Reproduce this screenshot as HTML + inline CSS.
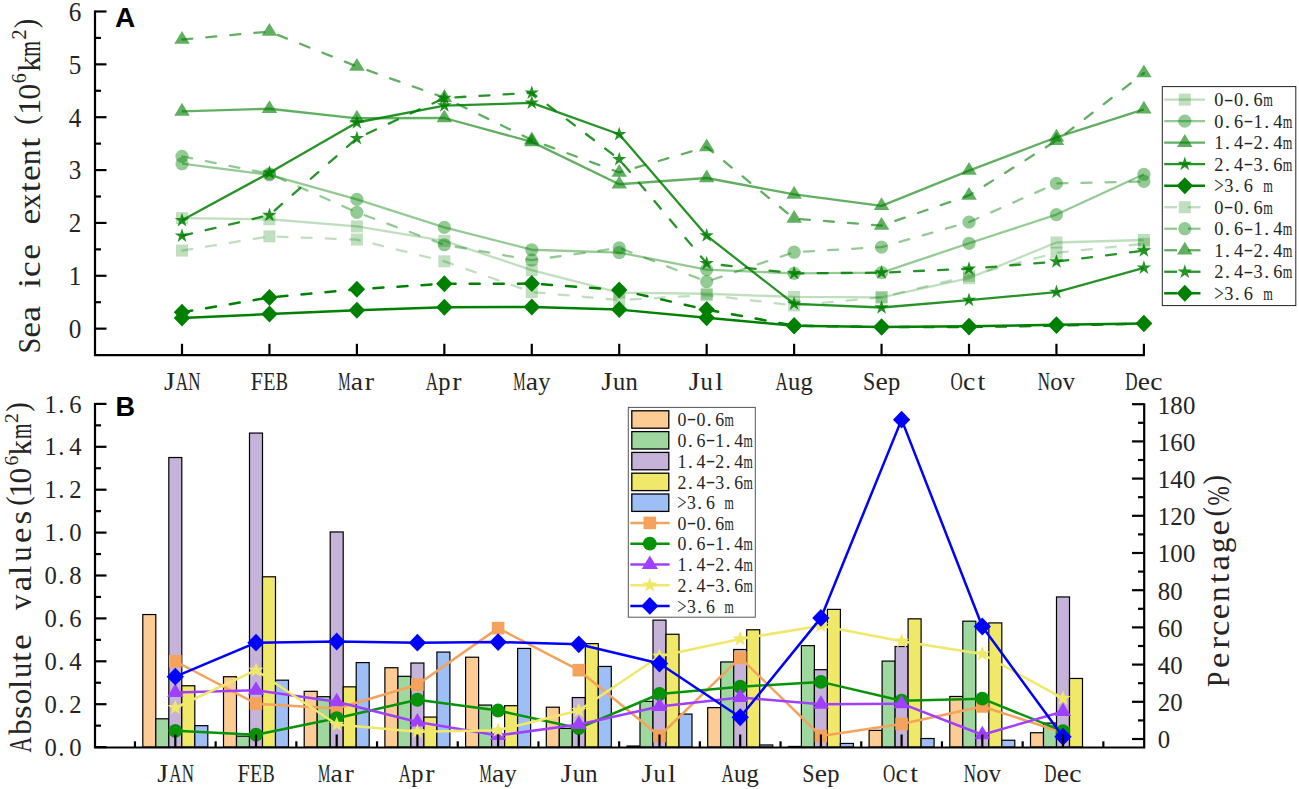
<!DOCTYPE html>
<html><head><meta charset="utf-8"><title>Sea ice extent</title>
<style>html,body{margin:0;padding:0;background:#fff;}body{width:1299px;height:789px;overflow:hidden;font-family:"Liberation Serif",serif;}svg{display:block;}</style>
</head><body>
<svg width="1299" height="789" viewBox="0 0 1299 789">
<rect width="1299" height="789" fill="#fff"/>
<polyline points="182.00,218.17 269.45,219.23 356.89,226.42 444.34,240.90 531.78,270.08 619.23,292.55 706.67,293.76 794.12,296.93 881.56,297.36 969.01,278.17 1056.45,242.49 1143.90,240.00" fill="none" stroke="#008000" stroke-width="2.3" stroke-opacity="0.25" stroke-linejoin="round"/>
<rect x="176.00" y="212.17" width="12.0" height="12.0" fill="#008000" fill-opacity="0.25"/>
<rect x="263.45" y="213.23" width="12.0" height="12.0" fill="#008000" fill-opacity="0.25"/>
<rect x="350.89" y="220.42" width="12.0" height="12.0" fill="#008000" fill-opacity="0.25"/>
<rect x="438.34" y="234.90" width="12.0" height="12.0" fill="#008000" fill-opacity="0.25"/>
<rect x="525.78" y="264.08" width="12.0" height="12.0" fill="#008000" fill-opacity="0.25"/>
<rect x="613.23" y="286.55" width="12.0" height="12.0" fill="#008000" fill-opacity="0.25"/>
<rect x="700.67" y="287.76" width="12.0" height="12.0" fill="#008000" fill-opacity="0.25"/>
<rect x="788.12" y="290.93" width="12.0" height="12.0" fill="#008000" fill-opacity="0.25"/>
<rect x="875.56" y="291.36" width="12.0" height="12.0" fill="#008000" fill-opacity="0.25"/>
<rect x="963.01" y="272.17" width="12.0" height="12.0" fill="#008000" fill-opacity="0.25"/>
<rect x="1050.45" y="236.49" width="12.0" height="12.0" fill="#008000" fill-opacity="0.25"/>
<rect x="1137.90" y="234.00" width="12.0" height="12.0" fill="#008000" fill-opacity="0.25"/>
<polyline points="182.00,163.73 269.45,174.83 356.89,199.41 444.34,227.42 531.78,249.73 619.23,252.53 706.67,269.55 794.12,273.41 881.56,272.67 969.01,243.28 1056.45,214.58 1143.90,174.30" fill="none" stroke="#008000" stroke-width="2.3" stroke-opacity="0.42" stroke-linejoin="round"/>
<circle cx="182.00" cy="163.73" r="6.6" fill="#008000" fill-opacity="0.42"/>
<circle cx="269.45" cy="174.83" r="6.6" fill="#008000" fill-opacity="0.42"/>
<circle cx="356.89" cy="199.41" r="6.6" fill="#008000" fill-opacity="0.42"/>
<circle cx="444.34" cy="227.42" r="6.6" fill="#008000" fill-opacity="0.42"/>
<circle cx="531.78" cy="249.73" r="6.6" fill="#008000" fill-opacity="0.42"/>
<circle cx="619.23" cy="252.53" r="6.6" fill="#008000" fill-opacity="0.42"/>
<circle cx="706.67" cy="269.55" r="6.6" fill="#008000" fill-opacity="0.42"/>
<circle cx="794.12" cy="273.41" r="6.6" fill="#008000" fill-opacity="0.42"/>
<circle cx="881.56" cy="272.67" r="6.6" fill="#008000" fill-opacity="0.42"/>
<circle cx="969.01" cy="243.28" r="6.6" fill="#008000" fill-opacity="0.42"/>
<circle cx="1056.45" cy="214.58" r="6.6" fill="#008000" fill-opacity="0.42"/>
<circle cx="1143.90" cy="174.30" r="6.6" fill="#008000" fill-opacity="0.42"/>
<polyline points="182.00,111.40 269.45,108.75 356.89,118.27 444.34,118.00 531.78,141.90 619.23,184.24 706.67,178.00 794.12,194.39 881.56,205.86 969.01,170.60 1056.45,137.30 1143.90,109.28" fill="none" stroke="#008000" stroke-width="2.3" stroke-opacity="0.62" stroke-linejoin="round"/>
<polygon points="182.00,102.86 189.75,115.66 174.25,115.66" fill="#008000" fill-opacity="0.62"/>
<polygon points="269.45,100.22 277.20,113.02 261.70,113.02" fill="#008000" fill-opacity="0.62"/>
<polygon points="356.89,109.73 364.64,122.53 349.14,122.53" fill="#008000" fill-opacity="0.62"/>
<polygon points="444.34,109.47 452.09,122.27 436.59,122.27" fill="#008000" fill-opacity="0.62"/>
<polygon points="531.78,133.36 539.53,146.16 524.03,146.16" fill="#008000" fill-opacity="0.62"/>
<polygon points="619.23,175.70 626.98,188.50 611.48,188.50" fill="#008000" fill-opacity="0.62"/>
<polygon points="706.67,169.47 714.42,182.27 698.92,182.27" fill="#008000" fill-opacity="0.62"/>
<polygon points="794.12,185.85 801.87,198.65 786.37,198.65" fill="#008000" fill-opacity="0.62"/>
<polygon points="881.56,197.32 889.31,210.12 873.81,210.12" fill="#008000" fill-opacity="0.62"/>
<polygon points="969.01,162.07 976.76,174.87 961.26,174.87" fill="#008000" fill-opacity="0.62"/>
<polygon points="1056.45,128.76 1064.20,141.56 1048.70,141.56" fill="#008000" fill-opacity="0.62"/>
<polygon points="1143.90,100.75 1151.65,113.55 1136.15,113.55" fill="#008000" fill-opacity="0.62"/>
<polyline points="182.00,220.29 269.45,172.87 356.89,122.50 444.34,105.58 531.78,102.94 619.23,134.28 706.67,235.67 794.12,303.96 881.56,307.51 969.01,300.11 1056.45,292.18 1143.90,267.97" fill="none" stroke="#008000" stroke-width="2.3" stroke-opacity="0.85" stroke-linejoin="round"/>
<polygon points="182.00,212.69 183.71,217.94 189.23,217.94 184.76,221.18 186.47,226.44 182.00,223.19 177.53,226.44 179.24,221.18 174.77,217.94 180.29,217.94" fill="#008000" fill-opacity="0.85"/>
<polygon points="269.45,165.27 271.15,170.52 276.67,170.52 272.21,173.77 273.91,179.02 269.45,175.77 264.98,179.02 266.68,173.77 262.22,170.52 267.74,170.52" fill="#008000" fill-opacity="0.85"/>
<polygon points="356.89,114.90 358.60,120.15 364.12,120.15 359.65,123.39 361.36,128.64 356.89,125.40 352.42,128.64 354.13,123.39 349.66,120.15 355.18,120.15" fill="#008000" fill-opacity="0.85"/>
<polygon points="444.34,97.98 446.04,103.23 451.56,103.23 447.10,106.48 448.80,111.73 444.34,108.48 439.87,111.73 441.58,106.48 437.11,103.23 442.63,103.23" fill="#008000" fill-opacity="0.85"/>
<polygon points="531.78,95.34 533.49,100.59 539.01,100.59 534.54,103.83 536.25,109.09 531.78,105.84 527.31,109.09 529.02,103.83 524.55,100.59 530.08,100.59" fill="#008000" fill-opacity="0.85"/>
<polygon points="619.23,126.68 620.93,131.94 626.46,131.94 621.99,135.18 623.69,140.43 619.23,137.19 614.76,140.43 616.47,135.18 612.00,131.94 617.52,131.94" fill="#008000" fill-opacity="0.85"/>
<polygon points="706.67,228.07 708.38,233.32 713.90,233.32 709.43,236.57 711.14,241.82 706.67,238.57 702.21,241.82 703.91,236.57 699.44,233.32 704.97,233.32" fill="#008000" fill-opacity="0.85"/>
<polygon points="794.12,296.36 795.82,301.62 801.35,301.62 796.88,304.86 798.59,310.11 794.12,306.87 789.65,310.11 791.36,304.86 786.89,301.62 792.41,301.62" fill="#008000" fill-opacity="0.85"/>
<polygon points="881.56,299.91 883.27,305.16 888.79,305.16 884.32,308.40 886.03,313.65 881.56,310.41 877.10,313.65 878.80,308.40 874.34,305.16 879.86,305.16" fill="#008000" fill-opacity="0.85"/>
<polygon points="969.01,292.51 970.72,297.76 976.24,297.76 971.77,301.00 973.48,306.25 969.01,303.01 964.54,306.25 966.25,301.00 961.78,297.76 967.30,297.76" fill="#008000" fill-opacity="0.85"/>
<polygon points="1056.45,284.58 1058.16,289.83 1063.68,289.83 1059.22,293.07 1060.92,298.33 1056.45,295.08 1051.99,298.33 1053.69,293.07 1049.23,289.83 1054.75,289.83" fill="#008000" fill-opacity="0.85"/>
<polygon points="1143.90,260.37 1145.61,265.62 1151.13,265.62 1146.66,268.86 1148.37,274.12 1143.90,270.87 1139.43,274.12 1141.14,268.86 1136.67,265.62 1142.19,265.62" fill="#008000" fill-opacity="0.85"/>
<polyline points="182.00,318.08 269.45,314.11 356.89,310.25 444.34,307.19 531.78,307.08 619.23,309.62 706.67,317.81 794.12,325.64 881.56,326.96 969.01,326.17 1056.45,324.84 1143.90,323.52" fill="none" stroke="#008000" stroke-width="2.5" stroke-opacity="1.0" stroke-linejoin="round"/>
<polygon points="182.00,309.58 190.25,318.08 182.00,326.58 173.75,318.08" fill="#008000" fill-opacity="1.0"/>
<polygon points="269.45,305.61 277.70,314.11 269.45,322.61 261.20,314.11" fill="#008000" fill-opacity="1.0"/>
<polygon points="356.89,301.75 365.14,310.25 356.89,318.75 348.64,310.25" fill="#008000" fill-opacity="1.0"/>
<polygon points="444.34,298.69 452.59,307.19 444.34,315.69 436.09,307.19" fill="#008000" fill-opacity="1.0"/>
<polygon points="531.78,298.58 540.03,307.08 531.78,315.58 523.53,307.08" fill="#008000" fill-opacity="1.0"/>
<polygon points="619.23,301.12 627.48,309.62 619.23,318.12 610.98,309.62" fill="#008000" fill-opacity="1.0"/>
<polygon points="706.67,309.31 714.92,317.81 706.67,326.31 698.42,317.81" fill="#008000" fill-opacity="1.0"/>
<polygon points="794.12,317.14 802.37,325.64 794.12,334.14 785.87,325.64" fill="#008000" fill-opacity="1.0"/>
<polygon points="881.56,318.46 889.81,326.96 881.56,335.46 873.31,326.96" fill="#008000" fill-opacity="1.0"/>
<polygon points="969.01,317.67 977.26,326.17 969.01,334.67 960.76,326.17" fill="#008000" fill-opacity="1.0"/>
<polygon points="1056.45,316.34 1064.70,324.84 1056.45,333.34 1048.20,324.84" fill="#008000" fill-opacity="1.0"/>
<polygon points="1143.90,315.02 1152.15,323.52 1143.90,332.02 1135.65,323.52" fill="#008000" fill-opacity="1.0"/>
<polyline points="182.00,250.63 269.45,236.36 356.89,239.58 444.34,261.36 531.78,292.02 619.23,300.16 706.67,295.08 794.12,305.39 881.56,297.36 969.01,275.79 1056.45,252.74 1143.90,243.81" fill="none" stroke="#008000" stroke-width="2.3" stroke-opacity="0.25" stroke-linejoin="round" stroke-dasharray="10 14.1" stroke-dashoffset="-0.3" stroke-linecap="round"/>
<rect x="176.00" y="244.63" width="12.0" height="12.0" fill="#008000" fill-opacity="0.25"/>
<rect x="263.45" y="230.36" width="12.0" height="12.0" fill="#008000" fill-opacity="0.25"/>
<rect x="350.89" y="233.58" width="12.0" height="12.0" fill="#008000" fill-opacity="0.25"/>
<rect x="438.34" y="255.36" width="12.0" height="12.0" fill="#008000" fill-opacity="0.25"/>
<rect x="525.78" y="286.02" width="12.0" height="12.0" fill="#008000" fill-opacity="0.25"/>
<rect x="613.23" y="294.16" width="12.0" height="12.0" fill="#008000" fill-opacity="0.25"/>
<rect x="700.67" y="289.08" width="12.0" height="12.0" fill="#008000" fill-opacity="0.25"/>
<rect x="788.12" y="299.39" width="12.0" height="12.0" fill="#008000" fill-opacity="0.25"/>
<rect x="875.56" y="291.36" width="12.0" height="12.0" fill="#008000" fill-opacity="0.25"/>
<rect x="963.01" y="269.79" width="12.0" height="12.0" fill="#008000" fill-opacity="0.25"/>
<rect x="1050.45" y="246.74" width="12.0" height="12.0" fill="#008000" fill-opacity="0.25"/>
<rect x="1137.90" y="237.81" width="12.0" height="12.0" fill="#008000" fill-opacity="0.25"/>
<polyline points="182.00,156.33 269.45,173.77 356.89,212.36 444.34,244.76 531.78,260.14 619.23,247.93 706.67,281.60 794.12,252.21 881.56,247.09 969.01,222.14 1056.45,183.44 1143.90,181.43" fill="none" stroke="#008000" stroke-width="2.3" stroke-opacity="0.42" stroke-linejoin="round" stroke-dasharray="10 14.1" stroke-dashoffset="-0.3" stroke-linecap="round"/>
<circle cx="182.00" cy="156.33" r="6.6" fill="#008000" fill-opacity="0.42"/>
<circle cx="269.45" cy="173.77" r="6.6" fill="#008000" fill-opacity="0.42"/>
<circle cx="356.89" cy="212.36" r="6.6" fill="#008000" fill-opacity="0.42"/>
<circle cx="444.34" cy="244.76" r="6.6" fill="#008000" fill-opacity="0.42"/>
<circle cx="531.78" cy="260.14" r="6.6" fill="#008000" fill-opacity="0.42"/>
<circle cx="619.23" cy="247.93" r="6.6" fill="#008000" fill-opacity="0.42"/>
<circle cx="706.67" cy="281.60" r="6.6" fill="#008000" fill-opacity="0.42"/>
<circle cx="794.12" cy="252.21" r="6.6" fill="#008000" fill-opacity="0.42"/>
<circle cx="881.56" cy="247.09" r="6.6" fill="#008000" fill-opacity="0.42"/>
<circle cx="969.01" cy="222.14" r="6.6" fill="#008000" fill-opacity="0.42"/>
<circle cx="1056.45" cy="183.44" r="6.6" fill="#008000" fill-opacity="0.42"/>
<circle cx="1143.90" cy="181.43" r="6.6" fill="#008000" fill-opacity="0.42"/>
<polyline points="182.00,39.51 269.45,31.58 356.89,66.46 444.34,97.65 531.78,139.94 619.23,172.50 706.67,147.02 794.12,218.60 881.56,225.57 969.01,195.44 1056.45,140.68 1143.90,73.07" fill="none" stroke="#008000" stroke-width="2.3" stroke-opacity="0.62" stroke-linejoin="round" stroke-dasharray="10 14.1" stroke-dashoffset="-0.3" stroke-linecap="round"/>
<polygon points="182.00,30.97 189.75,43.77 174.25,43.77" fill="#008000" fill-opacity="0.62"/>
<polygon points="269.45,23.04 277.20,35.84 261.70,35.84" fill="#008000" fill-opacity="0.62"/>
<polygon points="356.89,57.93 364.64,70.73 349.14,70.73" fill="#008000" fill-opacity="0.62"/>
<polygon points="444.34,89.12 452.09,101.92 436.59,101.92" fill="#008000" fill-opacity="0.62"/>
<polygon points="531.78,131.41 539.53,144.21 524.03,144.21" fill="#008000" fill-opacity="0.62"/>
<polygon points="619.23,163.97 626.98,176.77 611.48,176.77" fill="#008000" fill-opacity="0.62"/>
<polygon points="706.67,138.49 714.42,151.29 698.92,151.29" fill="#008000" fill-opacity="0.62"/>
<polygon points="794.12,210.06 801.87,222.86 786.37,222.86" fill="#008000" fill-opacity="0.62"/>
<polygon points="881.56,217.04 889.31,229.84 873.81,229.84" fill="#008000" fill-opacity="0.62"/>
<polygon points="969.01,186.91 976.76,199.71 961.26,199.71" fill="#008000" fill-opacity="0.62"/>
<polygon points="1056.45,132.15 1064.20,144.95 1048.70,144.95" fill="#008000" fill-opacity="0.62"/>
<polygon points="1143.90,64.54 1151.65,77.34 1136.15,77.34" fill="#008000" fill-opacity="0.62"/>
<polyline points="182.00,235.88 269.45,215.00 356.89,138.35 444.34,98.02 531.78,92.74 619.23,159.23 706.67,263.26 794.12,273.41 881.56,272.67 969.01,268.76 1056.45,261.62 1143.90,250.68" fill="none" stroke="#008000" stroke-width="2.3" stroke-opacity="0.85" stroke-linejoin="round" stroke-dasharray="10 14.1" stroke-dashoffset="-0.3" stroke-linecap="round"/>
<polygon points="182.00,228.28 183.71,233.53 189.23,233.53 184.76,236.78 186.47,242.03 182.00,238.78 177.53,242.03 179.24,236.78 174.77,233.53 180.29,233.53" fill="#008000" fill-opacity="0.85"/>
<polygon points="269.45,207.40 271.15,212.65 276.67,212.65 272.21,215.90 273.91,221.15 269.45,217.90 264.98,221.15 266.68,215.90 262.22,212.65 267.74,212.65" fill="#008000" fill-opacity="0.85"/>
<polygon points="356.89,130.75 358.60,136.01 364.12,136.01 359.65,139.25 361.36,144.50 356.89,141.26 352.42,144.50 354.13,139.25 349.66,136.01 355.18,136.01" fill="#008000" fill-opacity="0.85"/>
<polygon points="444.34,90.42 446.04,95.67 451.56,95.67 447.10,98.92 448.80,104.17 444.34,100.93 439.87,104.17 441.58,98.92 437.11,95.67 442.63,95.67" fill="#008000" fill-opacity="0.85"/>
<polygon points="531.78,85.14 533.49,90.39 539.01,90.39 534.54,93.63 536.25,98.88 531.78,95.64 527.31,98.88 529.02,93.63 524.55,90.39 530.08,90.39" fill="#008000" fill-opacity="0.85"/>
<polygon points="619.23,151.63 620.93,156.88 626.46,156.89 621.99,160.13 623.69,165.38 619.23,162.14 614.76,165.38 616.47,160.13 612.00,156.89 617.52,156.88" fill="#008000" fill-opacity="0.85"/>
<polygon points="706.67,255.66 708.38,260.91 713.90,260.91 709.43,264.16 711.14,269.41 706.67,266.17 702.21,269.41 703.91,264.16 699.44,260.91 704.97,260.91" fill="#008000" fill-opacity="0.85"/>
<polygon points="794.12,265.81 795.82,271.06 801.35,271.06 796.88,274.31 798.59,279.56 794.12,276.31 789.65,279.56 791.36,274.31 786.89,271.06 792.41,271.06" fill="#008000" fill-opacity="0.85"/>
<polygon points="881.56,265.07 883.27,270.32 888.79,270.32 884.32,273.57 886.03,278.82 881.56,275.57 877.10,278.82 878.80,273.57 874.34,270.32 879.86,270.32" fill="#008000" fill-opacity="0.85"/>
<polygon points="969.01,261.16 970.72,266.41 976.24,266.41 971.77,269.66 973.48,274.91 969.01,271.66 964.54,274.91 966.25,269.66 961.78,266.41 967.30,266.41" fill="#008000" fill-opacity="0.85"/>
<polygon points="1056.45,254.02 1058.16,259.27 1063.68,259.27 1059.22,262.52 1060.92,267.77 1056.45,264.53 1051.99,267.77 1053.69,262.52 1049.23,259.27 1054.75,259.27" fill="#008000" fill-opacity="0.85"/>
<polygon points="1143.90,243.08 1145.61,248.33 1151.13,248.33 1146.66,251.58 1148.37,256.83 1143.90,253.58 1139.43,256.83 1141.14,251.58 1136.67,248.33 1142.19,248.33" fill="#008000" fill-opacity="0.85"/>
<polyline points="182.00,312.26 269.45,297.46 356.89,289.32 444.34,283.72 531.78,283.61 619.23,289.96 706.67,309.62 794.12,325.64 881.56,326.96 969.01,327.06 1056.45,325.48 1143.90,323.52" fill="none" stroke="#008000" stroke-width="2.5" stroke-opacity="1.0" stroke-linejoin="round" stroke-dasharray="10 14.1" stroke-dashoffset="-0.3" stroke-linecap="round"/>
<polygon points="182.00,303.76 190.25,312.26 182.00,320.76 173.75,312.26" fill="#008000" fill-opacity="1.0"/>
<polygon points="269.45,288.96 277.70,297.46 269.45,305.96 261.20,297.46" fill="#008000" fill-opacity="1.0"/>
<polygon points="356.89,280.82 365.14,289.32 356.89,297.82 348.64,289.32" fill="#008000" fill-opacity="1.0"/>
<polygon points="444.34,275.22 452.59,283.72 444.34,292.22 436.09,283.72" fill="#008000" fill-opacity="1.0"/>
<polygon points="531.78,275.11 540.03,283.61 531.78,292.11 523.53,283.61" fill="#008000" fill-opacity="1.0"/>
<polygon points="619.23,281.46 627.48,289.96 619.23,298.46 610.98,289.96" fill="#008000" fill-opacity="1.0"/>
<polygon points="706.67,301.12 714.92,309.62 706.67,318.12 698.42,309.62" fill="#008000" fill-opacity="1.0"/>
<polygon points="794.12,317.14 802.37,325.64 794.12,334.14 785.87,325.64" fill="#008000" fill-opacity="1.0"/>
<polygon points="881.56,318.46 889.81,326.96 881.56,335.46 873.31,326.96" fill="#008000" fill-opacity="1.0"/>
<polygon points="969.01,318.56 977.26,327.06 969.01,335.56 960.76,327.06" fill="#008000" fill-opacity="1.0"/>
<polygon points="1056.45,316.98 1064.70,325.48 1056.45,333.98 1048.20,325.48" fill="#008000" fill-opacity="1.0"/>
<polygon points="1143.90,315.02 1152.15,323.52 1143.90,332.02 1135.65,323.52" fill="#008000" fill-opacity="1.0"/>
<path d="M95.0 10.49 V355.1 H1144.9" fill="none" stroke="#000" stroke-width="2.2"/>
<line x1="95.0" x2="106.5" y1="328.65" y2="328.65" stroke="#000" stroke-width="2.2"/>
<line x1="95.0" x2="101" y1="302.22" y2="302.22" stroke="#000" stroke-width="2.2"/>
<g font-family="Liberation Serif, serif" font-size="26.5" text-anchor="middle" fill="#242424">
<text transform="translate(75.00,337.95) scale(0.950,1)">0</text>
</g>
<line x1="95.0" x2="106.5" y1="275.79" y2="275.79" stroke="#000" stroke-width="2.2"/>
<line x1="95.0" x2="101" y1="249.36" y2="249.36" stroke="#000" stroke-width="2.2"/>
<g font-family="Liberation Serif, serif" font-size="26.5" text-anchor="middle" fill="#242424">
<text transform="translate(75.00,285.09) scale(0.950,1)">1</text>
</g>
<line x1="95.0" x2="106.5" y1="222.93" y2="222.93" stroke="#000" stroke-width="2.2"/>
<line x1="95.0" x2="101" y1="196.50" y2="196.50" stroke="#000" stroke-width="2.2"/>
<g font-family="Liberation Serif, serif" font-size="26.5" text-anchor="middle" fill="#242424">
<text transform="translate(75.00,232.23) scale(0.950,1)">2</text>
</g>
<line x1="95.0" x2="106.5" y1="170.07" y2="170.07" stroke="#000" stroke-width="2.2"/>
<line x1="95.0" x2="101" y1="143.64" y2="143.64" stroke="#000" stroke-width="2.2"/>
<g font-family="Liberation Serif, serif" font-size="26.5" text-anchor="middle" fill="#242424">
<text transform="translate(75.00,179.37) scale(0.950,1)">3</text>
</g>
<line x1="95.0" x2="106.5" y1="117.21" y2="117.21" stroke="#000" stroke-width="2.2"/>
<line x1="95.0" x2="101" y1="90.78" y2="90.78" stroke="#000" stroke-width="2.2"/>
<g font-family="Liberation Serif, serif" font-size="26.5" text-anchor="middle" fill="#242424">
<text transform="translate(75.00,126.51) scale(0.950,1)">4</text>
</g>
<line x1="95.0" x2="106.5" y1="64.35" y2="64.35" stroke="#000" stroke-width="2.2"/>
<line x1="95.0" x2="101" y1="37.92" y2="37.92" stroke="#000" stroke-width="2.2"/>
<g font-family="Liberation Serif, serif" font-size="26.5" text-anchor="middle" fill="#242424">
<text transform="translate(75.00,73.65) scale(0.950,1)">5</text>
</g>
<line x1="95.0" x2="106.5" y1="11.49" y2="11.49" stroke="#000" stroke-width="2.2"/>
<g font-family="Liberation Serif, serif" font-size="26.5" text-anchor="middle" fill="#242424">
<text transform="translate(75.00,20.79) scale(0.950,1)">6</text>
</g>
<line x1="182.00" x2="182.00" y1="343.8" y2="355.1" stroke="#000" stroke-width="2.2"/>
<g font-family="Liberation Serif, serif" font-size="25" text-anchor="middle" fill="#242424">
<text transform="translate(169.50,389.60) scale(1.120,1)">J</text>
<text transform="translate(182.00,389.60) scale(0.679,1)">A</text>
<text transform="translate(194.50,389.60) scale(0.679,1)">N</text>
</g>
<line x1="269.45" x2="269.45" y1="343.8" y2="355.1" stroke="#000" stroke-width="2.2"/>
<g font-family="Liberation Serif, serif" font-size="25" text-anchor="middle" fill="#242424">
<text transform="translate(256.95,389.60) scale(0.881,1)">F</text>
<text transform="translate(269.45,389.60) scale(0.802,1)">E</text>
<text transform="translate(281.95,389.60) scale(0.735,1)">B</text>
</g>
<line x1="356.89" x2="356.89" y1="343.8" y2="355.1" stroke="#000" stroke-width="2.2"/>
<g font-family="Liberation Serif, serif" font-size="25" text-anchor="middle" fill="#242424">
<text transform="translate(344.39,389.60) scale(0.551,1)">M</text>
<text transform="translate(356.89,389.60) scale(1.104,1)">a</text>
<text transform="translate(369.39,389.60) scale(1.120,1)">r</text>
</g>
<line x1="444.34" x2="444.34" y1="343.8" y2="355.1" stroke="#000" stroke-width="2.2"/>
<g font-family="Liberation Serif, serif" font-size="25" text-anchor="middle" fill="#242424">
<text transform="translate(431.84,389.60) scale(0.679,1)">A</text>
<text transform="translate(444.34,389.60) scale(0.980,1)">p</text>
<text transform="translate(456.84,389.60) scale(1.120,1)">r</text>
</g>
<line x1="531.78" x2="531.78" y1="343.8" y2="355.1" stroke="#000" stroke-width="2.2"/>
<g font-family="Liberation Serif, serif" font-size="25" text-anchor="middle" fill="#242424">
<text transform="translate(519.28,389.60) scale(0.551,1)">M</text>
<text transform="translate(531.78,389.60) scale(1.104,1)">a</text>
<text transform="translate(544.28,389.60) scale(0.980,1)">y</text>
</g>
<line x1="619.23" x2="619.23" y1="343.8" y2="355.1" stroke="#000" stroke-width="2.2"/>
<g font-family="Liberation Serif, serif" font-size="25" text-anchor="middle" fill="#242424">
<text transform="translate(606.73,389.60) scale(1.120,1)">J</text>
<text transform="translate(619.23,389.60) scale(0.980,1)">u</text>
<text transform="translate(631.73,389.60) scale(0.980,1)">n</text>
</g>
<line x1="706.67" x2="706.67" y1="343.8" y2="355.1" stroke="#000" stroke-width="2.2"/>
<g font-family="Liberation Serif, serif" font-size="25" text-anchor="middle" fill="#242424">
<text transform="translate(694.17,389.60) scale(1.120,1)">J</text>
<text transform="translate(706.67,389.60) scale(0.980,1)">u</text>
<text transform="translate(719.17,389.60) scale(1.120,1)">l</text>
</g>
<line x1="794.12" x2="794.12" y1="343.8" y2="355.1" stroke="#000" stroke-width="2.2"/>
<g font-family="Liberation Serif, serif" font-size="25" text-anchor="middle" fill="#242424">
<text transform="translate(781.62,389.60) scale(0.679,1)">A</text>
<text transform="translate(794.12,389.60) scale(0.980,1)">u</text>
<text transform="translate(806.62,389.60) scale(0.980,1)">g</text>
</g>
<line x1="881.56" x2="881.56" y1="343.8" y2="355.1" stroke="#000" stroke-width="2.2"/>
<g font-family="Liberation Serif, serif" font-size="25" text-anchor="middle" fill="#242424">
<text transform="translate(869.06,389.60) scale(0.881,1)">S</text>
<text transform="translate(881.56,389.60) scale(1.104,1)">e</text>
<text transform="translate(894.06,389.60) scale(0.980,1)">p</text>
</g>
<line x1="969.01" x2="969.01" y1="343.8" y2="355.1" stroke="#000" stroke-width="2.2"/>
<g font-family="Liberation Serif, serif" font-size="25" text-anchor="middle" fill="#242424">
<text transform="translate(956.51,389.60) scale(0.679,1)">O</text>
<text transform="translate(969.01,389.60) scale(1.104,1)">c</text>
<text transform="translate(981.51,389.60) scale(1.120,1)">t</text>
</g>
<line x1="1056.45" x2="1056.45" y1="343.8" y2="355.1" stroke="#000" stroke-width="2.2"/>
<g font-family="Liberation Serif, serif" font-size="25" text-anchor="middle" fill="#242424">
<text transform="translate(1043.95,389.60) scale(0.679,1)">N</text>
<text transform="translate(1056.45,389.60) scale(0.980,1)">o</text>
<text transform="translate(1068.95,389.60) scale(0.980,1)">v</text>
</g>
<line x1="1143.90" x2="1143.90" y1="343.8" y2="355.1" stroke="#000" stroke-width="2.2"/>
<g font-family="Liberation Serif, serif" font-size="25" text-anchor="middle" fill="#242424">
<text transform="translate(1131.40,389.60) scale(0.679,1)">D</text>
<text transform="translate(1143.90,389.60) scale(1.104,1)">e</text>
<text transform="translate(1156.40,389.60) scale(1.104,1)">c</text>
</g>
<text font-family="Liberation Sans, sans-serif" font-weight="bold" font-size="28" x="115" y="27.2">A</text>
<rect x="1162.3" y="86.6" width="133.5" height="219" fill="#fff" stroke="#222" stroke-width="1"/>
<line x1="1164.2" x2="1205" y1="99.60" y2="99.60" stroke="#008000" stroke-width="2.3" stroke-opacity="0.25"/>
<rect x="1178.80" y="93.60" width="12.0" height="12.0" fill="#008000" fill-opacity="0.25"/>
<g font-family="Liberation Serif, serif" font-size="19.5" text-anchor="middle" fill="#242424">
<text transform="translate(1218.90,106.20) scale(0.940,1)">0</text>
<text transform="translate(1228.70,104.54) scale(1.500,1)">-</text>
<text transform="translate(1238.50,106.20) scale(0.940,1)">0</text>
<text transform="translate(1247.03,106.20) scale(1.000,1)">.</text>
<text transform="translate(1258.10,106.20) scale(0.940,1)">6</text>
<text transform="translate(1267.90,106.20) scale(0.630,1)">m</text>
</g>
<line x1="1164.2" x2="1205" y1="121.12" y2="121.12" stroke="#008000" stroke-width="2.3" stroke-opacity="0.42"/>
<circle cx="1184.80" cy="121.12" r="6.6" fill="#008000" fill-opacity="0.42"/>
<g font-family="Liberation Serif, serif" font-size="19.5" text-anchor="middle" fill="#242424">
<text transform="translate(1218.90,127.72) scale(0.940,1)">0</text>
<text transform="translate(1227.43,127.72) scale(1.000,1)">.</text>
<text transform="translate(1238.50,127.72) scale(0.940,1)">6</text>
<text transform="translate(1248.30,126.06) scale(1.500,1)">-</text>
<text transform="translate(1258.10,127.72) scale(0.940,1)">1</text>
<text transform="translate(1266.63,127.72) scale(1.000,1)">.</text>
<text transform="translate(1277.70,127.72) scale(0.940,1)">4</text>
<text transform="translate(1287.50,127.72) scale(0.630,1)">m</text>
</g>
<line x1="1164.2" x2="1205" y1="142.64" y2="142.64" stroke="#008000" stroke-width="2.3" stroke-opacity="0.62"/>
<polygon points="1184.80,134.11 1192.55,146.91 1177.05,146.91" fill="#008000" fill-opacity="0.62"/>
<g font-family="Liberation Serif, serif" font-size="19.5" text-anchor="middle" fill="#242424">
<text transform="translate(1218.90,149.24) scale(0.940,1)">1</text>
<text transform="translate(1227.43,149.24) scale(1.000,1)">.</text>
<text transform="translate(1238.50,149.24) scale(0.940,1)">4</text>
<text transform="translate(1248.30,147.58) scale(1.500,1)">-</text>
<text transform="translate(1258.10,149.24) scale(0.940,1)">2</text>
<text transform="translate(1266.63,149.24) scale(1.000,1)">.</text>
<text transform="translate(1277.70,149.24) scale(0.940,1)">4</text>
<text transform="translate(1287.50,149.24) scale(0.630,1)">m</text>
</g>
<line x1="1164.2" x2="1205" y1="164.16" y2="164.16" stroke="#008000" stroke-width="2.3" stroke-opacity="0.85"/>
<polygon points="1184.80,156.56 1186.51,161.81 1192.03,161.81 1187.56,165.06 1189.27,170.31 1184.80,167.06 1180.33,170.31 1182.04,165.06 1177.57,161.81 1183.09,161.81" fill="#008000" fill-opacity="0.85"/>
<g font-family="Liberation Serif, serif" font-size="19.5" text-anchor="middle" fill="#242424">
<text transform="translate(1218.90,170.76) scale(0.940,1)">2</text>
<text transform="translate(1227.43,170.76) scale(1.000,1)">.</text>
<text transform="translate(1238.50,170.76) scale(0.940,1)">4</text>
<text transform="translate(1248.30,169.10) scale(1.500,1)">-</text>
<text transform="translate(1258.10,170.76) scale(0.940,1)">3</text>
<text transform="translate(1266.63,170.76) scale(1.000,1)">.</text>
<text transform="translate(1277.70,170.76) scale(0.940,1)">6</text>
<text transform="translate(1287.50,170.76) scale(0.630,1)">m</text>
</g>
<line x1="1164.2" x2="1205" y1="185.68" y2="185.68" stroke="#008000" stroke-width="2.5" stroke-opacity="1.0"/>
<polygon points="1184.80,177.18 1193.05,185.68 1184.80,194.18 1176.55,185.68" fill="#008000" fill-opacity="1.0"/>
<g font-family="Liberation Serif, serif" font-size="19.5" text-anchor="middle" fill="#242424">
<text transform="translate(1218.90,193.45) scale(0.869,1.2)">&gt;</text>
<text transform="translate(1228.70,192.28) scale(0.940,1)">3</text>
<text transform="translate(1237.23,192.28) scale(1.000,1)">.</text>
<text transform="translate(1248.30,192.28) scale(0.940,1)">6</text>
<text transform="translate(1267.90,192.28) scale(0.630,1)">m</text>
</g>
<line x1="1164.2" x2="1177" y1="207.20" y2="207.20" stroke="#008000" stroke-width="2.3" stroke-opacity="0.25"/>
<line x1="1188" x2="1200.5" y1="207.20" y2="207.20" stroke="#008000" stroke-width="2.3" stroke-opacity="0.25"/>
<rect x="1178.80" y="201.20" width="12.0" height="12.0" fill="#008000" fill-opacity="0.25"/>
<g font-family="Liberation Serif, serif" font-size="19.5" text-anchor="middle" fill="#242424">
<text transform="translate(1218.90,213.80) scale(0.940,1)">0</text>
<text transform="translate(1228.70,212.14) scale(1.500,1)">-</text>
<text transform="translate(1238.50,213.80) scale(0.940,1)">0</text>
<text transform="translate(1247.03,213.80) scale(1.000,1)">.</text>
<text transform="translate(1258.10,213.80) scale(0.940,1)">6</text>
<text transform="translate(1267.90,213.80) scale(0.630,1)">m</text>
</g>
<line x1="1164.2" x2="1177" y1="228.72" y2="228.72" stroke="#008000" stroke-width="2.3" stroke-opacity="0.42"/>
<line x1="1188" x2="1200.5" y1="228.72" y2="228.72" stroke="#008000" stroke-width="2.3" stroke-opacity="0.42"/>
<circle cx="1184.80" cy="228.72" r="6.6" fill="#008000" fill-opacity="0.42"/>
<g font-family="Liberation Serif, serif" font-size="19.5" text-anchor="middle" fill="#242424">
<text transform="translate(1218.90,235.32) scale(0.940,1)">0</text>
<text transform="translate(1227.43,235.32) scale(1.000,1)">.</text>
<text transform="translate(1238.50,235.32) scale(0.940,1)">6</text>
<text transform="translate(1248.30,233.66) scale(1.500,1)">-</text>
<text transform="translate(1258.10,235.32) scale(0.940,1)">1</text>
<text transform="translate(1266.63,235.32) scale(1.000,1)">.</text>
<text transform="translate(1277.70,235.32) scale(0.940,1)">4</text>
<text transform="translate(1287.50,235.32) scale(0.630,1)">m</text>
</g>
<line x1="1164.2" x2="1177" y1="250.24" y2="250.24" stroke="#008000" stroke-width="2.3" stroke-opacity="0.62"/>
<line x1="1188" x2="1200.5" y1="250.24" y2="250.24" stroke="#008000" stroke-width="2.3" stroke-opacity="0.62"/>
<polygon points="1184.80,241.71 1192.55,254.51 1177.05,254.51" fill="#008000" fill-opacity="0.62"/>
<g font-family="Liberation Serif, serif" font-size="19.5" text-anchor="middle" fill="#242424">
<text transform="translate(1218.90,256.84) scale(0.940,1)">1</text>
<text transform="translate(1227.43,256.84) scale(1.000,1)">.</text>
<text transform="translate(1238.50,256.84) scale(0.940,1)">4</text>
<text transform="translate(1248.30,255.18) scale(1.500,1)">-</text>
<text transform="translate(1258.10,256.84) scale(0.940,1)">2</text>
<text transform="translate(1266.63,256.84) scale(1.000,1)">.</text>
<text transform="translate(1277.70,256.84) scale(0.940,1)">4</text>
<text transform="translate(1287.50,256.84) scale(0.630,1)">m</text>
</g>
<line x1="1164.2" x2="1177" y1="271.76" y2="271.76" stroke="#008000" stroke-width="2.3" stroke-opacity="0.85"/>
<line x1="1188" x2="1200.5" y1="271.76" y2="271.76" stroke="#008000" stroke-width="2.3" stroke-opacity="0.85"/>
<polygon points="1184.80,264.16 1186.51,269.41 1192.03,269.41 1187.56,272.66 1189.27,277.91 1184.80,274.66 1180.33,277.91 1182.04,272.66 1177.57,269.41 1183.09,269.41" fill="#008000" fill-opacity="0.85"/>
<g font-family="Liberation Serif, serif" font-size="19.5" text-anchor="middle" fill="#242424">
<text transform="translate(1218.90,278.36) scale(0.940,1)">2</text>
<text transform="translate(1227.43,278.36) scale(1.000,1)">.</text>
<text transform="translate(1238.50,278.36) scale(0.940,1)">4</text>
<text transform="translate(1248.30,276.70) scale(1.500,1)">-</text>
<text transform="translate(1258.10,278.36) scale(0.940,1)">3</text>
<text transform="translate(1266.63,278.36) scale(1.000,1)">.</text>
<text transform="translate(1277.70,278.36) scale(0.940,1)">6</text>
<text transform="translate(1287.50,278.36) scale(0.630,1)">m</text>
</g>
<line x1="1164.2" x2="1177" y1="293.28" y2="293.28" stroke="#008000" stroke-width="2.5" stroke-opacity="1.0"/>
<line x1="1188" x2="1200.5" y1="293.28" y2="293.28" stroke="#008000" stroke-width="2.5" stroke-opacity="1.0"/>
<polygon points="1184.80,284.78 1193.05,293.28 1184.80,301.78 1176.55,293.28" fill="#008000" fill-opacity="1.0"/>
<g font-family="Liberation Serif, serif" font-size="19.5" text-anchor="middle" fill="#242424">
<text transform="translate(1218.90,301.05) scale(0.869,1.2)">&gt;</text>
<text transform="translate(1228.70,299.88) scale(0.940,1)">3</text>
<text transform="translate(1237.23,299.88) scale(1.000,1)">.</text>
<text transform="translate(1248.30,299.88) scale(0.940,1)">6</text>
<text transform="translate(1267.90,299.88) scale(0.630,1)">m</text>
</g>
<text font-family="Liberation Serif, serif" font-size="32" fill="#242424" text-anchor="middle" transform="translate(39.60,345.70) rotate(-90) translate(0,0.00) scale(0.881,1)">S</text>
<text font-family="Liberation Serif, serif" font-size="32" fill="#242424" text-anchor="middle" transform="translate(39.60,329.80) rotate(-90) translate(0,0.00) scale(1.104,1)">e</text>
<text font-family="Liberation Serif, serif" font-size="32" fill="#242424" text-anchor="middle" transform="translate(39.60,313.90) rotate(-90) translate(0,0.00) scale(1.104,1)">a</text>
<text font-family="Liberation Serif, serif" font-size="32" fill="#242424" text-anchor="middle" transform="translate(39.60,283.10) rotate(-90) translate(0,0.00) scale(1.120,1)">i</text>
<text font-family="Liberation Serif, serif" font-size="32" fill="#242424" text-anchor="middle" transform="translate(39.60,269.10) rotate(-90) translate(0,0.00) scale(1.104,1)">c</text>
<text font-family="Liberation Serif, serif" font-size="32" fill="#242424" text-anchor="middle" transform="translate(39.60,252.00) rotate(-90) translate(0,0.00) scale(1.104,1)">e</text>
<text font-family="Liberation Serif, serif" font-size="32" fill="#242424" text-anchor="middle" transform="translate(39.60,216.70) rotate(-90) translate(0,0.00) scale(1.104,1)">e</text>
<text font-family="Liberation Serif, serif" font-size="32" fill="#242424" text-anchor="middle" transform="translate(39.60,201.50) rotate(-90) translate(0,0.00) scale(0.980,1)">x</text>
<text font-family="Liberation Serif, serif" font-size="32" fill="#242424" text-anchor="middle" transform="translate(39.60,187.30) rotate(-90) translate(0,0.00) scale(1.120,1)">t</text>
<text font-family="Liberation Serif, serif" font-size="32" fill="#242424" text-anchor="middle" transform="translate(39.60,173.10) rotate(-90) translate(0,0.00) scale(1.104,1)">e</text>
<text font-family="Liberation Serif, serif" font-size="32" fill="#242424" text-anchor="middle" transform="translate(39.60,157.30) rotate(-90) translate(0,0.00) scale(0.980,1)">n</text>
<text font-family="Liberation Serif, serif" font-size="32" fill="#242424" text-anchor="middle" transform="translate(39.60,142.70) rotate(-90) translate(0,0.00) scale(1.120,1)">t</text>
<text font-family="Liberation Serif, serif" font-size="32" fill="#242424" text-anchor="middle" transform="translate(39.60,120.00) rotate(-90) translate(0,-3.20) scale(0.900,1)">(</text>
<text font-family="Liberation Serif, serif" font-size="32" fill="#242424" text-anchor="middle" transform="translate(39.60,106.80) rotate(-90) translate(0,0.00) scale(1.000,1)">1</text>
<text font-family="Liberation Serif, serif" font-size="32" fill="#242424" text-anchor="middle" transform="translate(39.60,91.80) rotate(-90) translate(0,0.00) scale(1.000,1)">0</text>
<text font-family="Liberation Serif, serif" font-size="20" fill="#242424" text-anchor="middle" transform="translate(26.40,78.30) rotate(-90) translate(0,0.00) scale(1.000,1)">6</text>
<text font-family="Liberation Serif, serif" font-size="32" fill="#242424" text-anchor="middle" transform="translate(39.60,64.00) rotate(-90) translate(0,0.00) scale(0.980,1)">k</text>
<text font-family="Liberation Serif, serif" font-size="32" fill="#242424" text-anchor="middle" transform="translate(39.60,49.00) rotate(-90) translate(0,0.00) scale(0.630,1)">m</text>
<text font-family="Liberation Serif, serif" font-size="20" fill="#242424" text-anchor="middle" transform="translate(26.40,34.60) rotate(-90) translate(0,0.00) scale(1.000,1)">2</text>
<text font-family="Liberation Serif, serif" font-size="32" fill="#242424" text-anchor="middle" transform="translate(39.60,23.50) rotate(-90) translate(0,-3.20) scale(0.900,1)">)</text>
<rect x="142.80" y="614.54" width="13.0" height="132.56" fill="#FDCB94" stroke="#000" stroke-width="1.2"/>
<rect x="155.80" y="718.79" width="13.0" height="28.31" fill="#9FD89F" stroke="#000" stroke-width="1.2"/>
<rect x="168.80" y="457.52" width="13.0" height="289.58" fill="#C6B3D9" stroke="#000" stroke-width="1.2"/>
<rect x="181.80" y="685.75" width="13.0" height="61.35" fill="#F0E868" stroke="#000" stroke-width="1.2"/>
<rect x="194.80" y="725.65" width="13.0" height="21.45" fill="#9DBFF5" stroke="#000" stroke-width="1.2"/>
<rect x="223.50" y="676.74" width="13.0" height="70.36" fill="#FDCB94" stroke="#000" stroke-width="1.2"/>
<rect x="236.50" y="736.16" width="13.0" height="10.94" fill="#9FD89F" stroke="#000" stroke-width="1.2"/>
<rect x="249.50" y="433.07" width="13.0" height="314.03" fill="#C6B3D9" stroke="#000" stroke-width="1.2"/>
<rect x="262.50" y="576.79" width="13.0" height="170.31" fill="#F0E868" stroke="#000" stroke-width="1.2"/>
<rect x="275.50" y="680.18" width="13.0" height="66.92" fill="#9DBFF5" stroke="#000" stroke-width="1.2"/>
<rect x="304.20" y="691.33" width="13.0" height="55.77" fill="#FDCB94" stroke="#000" stroke-width="1.2"/>
<rect x="317.20" y="696.69" width="13.0" height="50.41" fill="#9FD89F" stroke="#000" stroke-width="1.2"/>
<rect x="330.20" y="531.96" width="13.0" height="215.14" fill="#C6B3D9" stroke="#000" stroke-width="1.2"/>
<rect x="343.20" y="686.83" width="13.0" height="60.27" fill="#F0E868" stroke="#000" stroke-width="1.2"/>
<rect x="356.20" y="662.59" width="13.0" height="84.51" fill="#9DBFF5" stroke="#000" stroke-width="1.2"/>
<rect x="384.90" y="667.74" width="13.0" height="79.37" fill="#FDCB94" stroke="#000" stroke-width="1.2"/>
<rect x="397.90" y="676.32" width="13.0" height="70.78" fill="#9FD89F" stroke="#000" stroke-width="1.2"/>
<rect x="410.90" y="663.02" width="13.0" height="84.08" fill="#C6B3D9" stroke="#000" stroke-width="1.2"/>
<rect x="423.90" y="717.07" width="13.0" height="30.03" fill="#F0E868" stroke="#000" stroke-width="1.2"/>
<rect x="436.90" y="652.08" width="13.0" height="95.02" fill="#9DBFF5" stroke="#000" stroke-width="1.2"/>
<rect x="465.60" y="657.22" width="13.0" height="89.88" fill="#FDCB94" stroke="#000" stroke-width="1.2"/>
<rect x="478.60" y="705.06" width="13.0" height="42.04" fill="#9FD89F" stroke="#000" stroke-width="1.2"/>
<rect x="491.60" y="734.23" width="13.0" height="12.87" fill="#C6B3D9" stroke="#000" stroke-width="1.2"/>
<rect x="504.60" y="705.70" width="13.0" height="41.40" fill="#F0E868" stroke="#000" stroke-width="1.2"/>
<rect x="517.60" y="648.43" width="13.0" height="98.67" fill="#9DBFF5" stroke="#000" stroke-width="1.2"/>
<rect x="546.30" y="707.20" width="13.0" height="39.90" fill="#FDCB94" stroke="#000" stroke-width="1.2"/>
<rect x="559.30" y="728.44" width="13.0" height="18.66" fill="#9FD89F" stroke="#000" stroke-width="1.2"/>
<rect x="572.30" y="697.55" width="13.0" height="49.55" fill="#C6B3D9" stroke="#000" stroke-width="1.2"/>
<rect x="585.30" y="643.60" width="13.0" height="103.50" fill="#F0E868" stroke="#000" stroke-width="1.2"/>
<rect x="598.30" y="666.45" width="13.0" height="80.65" fill="#9DBFF5" stroke="#000" stroke-width="1.2"/>
<rect x="627.00" y="746.03" width="13.0" height="1.07" fill="#FDCB94" stroke="#000" stroke-width="1.2"/>
<rect x="640.00" y="701.41" width="13.0" height="45.69" fill="#9FD89F" stroke="#000" stroke-width="1.2"/>
<rect x="653.00" y="620.12" width="13.0" height="126.98" fill="#C6B3D9" stroke="#000" stroke-width="1.2"/>
<rect x="666.00" y="634.27" width="13.0" height="112.83" fill="#F0E868" stroke="#000" stroke-width="1.2"/>
<rect x="679.00" y="714.07" width="13.0" height="33.03" fill="#9DBFF5" stroke="#000" stroke-width="1.2"/>
<rect x="707.70" y="707.63" width="13.0" height="39.47" fill="#FDCB94" stroke="#000" stroke-width="1.2"/>
<rect x="720.70" y="661.94" width="13.0" height="85.16" fill="#9FD89F" stroke="#000" stroke-width="1.2"/>
<rect x="733.70" y="649.50" width="13.0" height="97.60" fill="#C6B3D9" stroke="#000" stroke-width="1.2"/>
<rect x="746.70" y="629.77" width="13.0" height="117.33" fill="#F0E868" stroke="#000" stroke-width="1.2"/>
<rect x="759.70" y="744.96" width="13.0" height="2.14" fill="#9DBFF5" stroke="#000" stroke-width="1.2"/>
<rect x="788.40" y="746.46" width="13.0" height="0.64" fill="#FDCB94" stroke="#000" stroke-width="1.2"/>
<rect x="801.40" y="645.64" width="13.0" height="101.46" fill="#9FD89F" stroke="#000" stroke-width="1.2"/>
<rect x="814.40" y="669.67" width="13.0" height="77.43" fill="#C6B3D9" stroke="#000" stroke-width="1.2"/>
<rect x="827.40" y="609.39" width="13.0" height="137.71" fill="#F0E868" stroke="#000" stroke-width="1.2"/>
<rect x="840.40" y="743.45" width="13.0" height="3.65" fill="#9DBFF5" stroke="#000" stroke-width="1.2"/>
<rect x="869.10" y="730.37" width="13.0" height="16.73" fill="#FDCB94" stroke="#000" stroke-width="1.2"/>
<rect x="882.10" y="661.09" width="13.0" height="86.01" fill="#9FD89F" stroke="#000" stroke-width="1.2"/>
<rect x="895.10" y="646.50" width="13.0" height="100.60" fill="#C6B3D9" stroke="#000" stroke-width="1.2"/>
<rect x="908.10" y="618.83" width="13.0" height="128.27" fill="#F0E868" stroke="#000" stroke-width="1.2"/>
<rect x="921.10" y="738.52" width="13.0" height="8.58" fill="#9DBFF5" stroke="#000" stroke-width="1.2"/>
<rect x="949.80" y="696.48" width="13.0" height="50.62" fill="#FDCB94" stroke="#000" stroke-width="1.2"/>
<rect x="962.80" y="621.19" width="13.0" height="125.91" fill="#9FD89F" stroke="#000" stroke-width="1.2"/>
<rect x="975.80" y="736.38" width="13.0" height="10.73" fill="#C6B3D9" stroke="#000" stroke-width="1.2"/>
<rect x="988.80" y="622.90" width="13.0" height="124.20" fill="#F0E868" stroke="#000" stroke-width="1.2"/>
<rect x="1001.80" y="740.24" width="13.0" height="6.86" fill="#9DBFF5" stroke="#000" stroke-width="1.2"/>
<rect x="1030.50" y="732.73" width="13.0" height="14.37" fill="#FDCB94" stroke="#000" stroke-width="1.2"/>
<rect x="1043.50" y="723.08" width="13.0" height="24.02" fill="#9FD89F" stroke="#000" stroke-width="1.2"/>
<rect x="1056.50" y="596.95" width="13.0" height="150.15" fill="#C6B3D9" stroke="#000" stroke-width="1.2"/>
<rect x="1069.50" y="678.46" width="13.0" height="68.64" fill="#F0E868" stroke="#000" stroke-width="1.2"/>
<polyline points="175.30,661.25 256.00,703.66 336.70,708.50 417.40,684.69 498.10,628.14 578.80,670.18 659.50,736.02 740.20,657.72 820.90,736.02 901.60,723.93 982.30,706.45 1063.00,732.49" fill="none" stroke="#F5A35C" stroke-width="2.5" stroke-opacity="1" stroke-linejoin="round"/>
<rect x="169.00" y="654.95" width="12.600000000000001" height="12.600000000000001" fill="#F5A35C" fill-opacity="1"/>
<rect x="249.70" y="697.36" width="12.600000000000001" height="12.600000000000001" fill="#F5A35C" fill-opacity="1"/>
<rect x="330.40" y="702.20" width="12.600000000000001" height="12.600000000000001" fill="#F5A35C" fill-opacity="1"/>
<rect x="411.10" y="678.39" width="12.600000000000001" height="12.600000000000001" fill="#F5A35C" fill-opacity="1"/>
<rect x="491.80" y="621.84" width="12.600000000000001" height="12.600000000000001" fill="#F5A35C" fill-opacity="1"/>
<rect x="572.50" y="663.88" width="12.600000000000001" height="12.600000000000001" fill="#F5A35C" fill-opacity="1"/>
<rect x="653.20" y="729.72" width="12.600000000000001" height="12.600000000000001" fill="#F5A35C" fill-opacity="1"/>
<rect x="733.90" y="651.42" width="12.600000000000001" height="12.600000000000001" fill="#F5A35C" fill-opacity="1"/>
<rect x="814.60" y="729.72" width="12.600000000000001" height="12.600000000000001" fill="#F5A35C" fill-opacity="1"/>
<rect x="895.30" y="717.63" width="12.600000000000001" height="12.600000000000001" fill="#F5A35C" fill-opacity="1"/>
<rect x="976.00" y="700.15" width="12.600000000000001" height="12.600000000000001" fill="#F5A35C" fill-opacity="1"/>
<rect x="1056.70" y="726.19" width="12.600000000000001" height="12.600000000000001" fill="#F5A35C" fill-opacity="1"/>
<polyline points="175.30,730.82 256.00,734.72 336.70,718.17 417.40,699.75 498.10,710.54 578.80,728.21 659.50,693.99 740.20,686.73 820.90,681.90 901.60,700.68 982.30,698.64 1063.00,731.19" fill="none" stroke="#079307" stroke-width="2.5" stroke-opacity="1" stroke-linejoin="round"/>
<circle cx="175.30" cy="730.82" r="6.93" fill="#079307" fill-opacity="1"/>
<circle cx="256.00" cy="734.72" r="6.93" fill="#079307" fill-opacity="1"/>
<circle cx="336.70" cy="718.17" r="6.93" fill="#079307" fill-opacity="1"/>
<circle cx="417.40" cy="699.75" r="6.93" fill="#079307" fill-opacity="1"/>
<circle cx="498.10" cy="710.54" r="6.93" fill="#079307" fill-opacity="1"/>
<circle cx="578.80" cy="728.21" r="6.93" fill="#079307" fill-opacity="1"/>
<circle cx="659.50" cy="693.99" r="6.93" fill="#079307" fill-opacity="1"/>
<circle cx="740.20" cy="686.73" r="6.93" fill="#079307" fill-opacity="1"/>
<circle cx="820.90" cy="681.90" r="6.93" fill="#079307" fill-opacity="1"/>
<circle cx="901.60" cy="700.68" r="6.93" fill="#079307" fill-opacity="1"/>
<circle cx="982.30" cy="698.64" r="6.93" fill="#079307" fill-opacity="1"/>
<circle cx="1063.00" cy="731.19" r="6.93" fill="#079307" fill-opacity="1"/>
<polyline points="175.30,692.50 256.00,690.27 336.70,701.80 417.40,722.07 498.10,735.47 578.80,724.49 659.50,706.45 740.20,697.52 820.90,704.22 901.60,703.66 982.30,734.72 1063.00,711.47" fill="none" stroke="#A040FF" stroke-width="2.5" stroke-opacity="1" stroke-linejoin="round"/>
<polygon points="175.30,683.54 183.44,696.98 167.16,696.98" fill="#A040FF" fill-opacity="1"/>
<polygon points="256.00,681.31 264.14,694.75 247.86,694.75" fill="#A040FF" fill-opacity="1"/>
<polygon points="336.70,692.84 344.84,706.28 328.56,706.28" fill="#A040FF" fill-opacity="1"/>
<polygon points="417.40,713.11 425.54,726.55 409.26,726.55" fill="#A040FF" fill-opacity="1"/>
<polygon points="498.10,726.51 506.24,739.95 489.96,739.95" fill="#A040FF" fill-opacity="1"/>
<polygon points="578.80,715.53 586.94,728.97 570.66,728.97" fill="#A040FF" fill-opacity="1"/>
<polygon points="659.50,697.49 667.64,710.93 651.36,710.93" fill="#A040FF" fill-opacity="1"/>
<polygon points="740.20,688.56 748.34,702.00 732.06,702.00" fill="#A040FF" fill-opacity="1"/>
<polygon points="820.90,695.26 829.04,708.70 812.76,708.70" fill="#A040FF" fill-opacity="1"/>
<polygon points="901.60,694.70 909.74,708.14 893.46,708.14" fill="#A040FF" fill-opacity="1"/>
<polygon points="982.30,725.76 990.44,739.20 974.16,739.20" fill="#A040FF" fill-opacity="1"/>
<polygon points="1063.00,702.51 1071.14,715.95 1054.86,715.95" fill="#A040FF" fill-opacity="1"/>
<polyline points="175.30,707.75 256.00,670.18 336.70,724.49 417.40,731.75 498.10,730.26 578.80,710.54 659.50,656.23 740.20,638.93 820.90,625.73 901.60,641.16 982.30,654.00 1063.00,698.45" fill="none" stroke="#F0E868" stroke-width="2.5" stroke-opacity="1" stroke-linejoin="round"/>
<polygon points="175.30,699.77 177.27,705.04 182.89,705.29 178.49,708.79 179.99,714.21 175.30,711.10 170.61,714.21 172.11,708.79 167.71,705.29 173.33,705.04" fill="#F0E868" fill-opacity="1"/>
<polygon points="256.00,662.20 257.97,667.47 263.59,667.71 259.19,671.22 260.69,676.64 256.00,673.53 251.31,676.64 252.81,671.22 248.41,667.71 254.03,667.47" fill="#F0E868" fill-opacity="1"/>
<polygon points="336.70,716.51 338.67,721.78 344.29,722.03 339.89,725.53 341.39,730.95 336.70,727.84 332.01,730.95 333.51,725.53 329.11,722.03 334.73,721.78" fill="#F0E868" fill-opacity="1"/>
<polygon points="417.40,723.77 419.37,729.03 424.99,729.28 420.59,732.78 422.09,738.20 417.40,735.10 412.71,738.20 414.21,732.78 409.81,729.28 415.43,729.03" fill="#F0E868" fill-opacity="1"/>
<polygon points="498.10,722.28 500.07,727.55 505.69,727.79 501.29,731.29 502.79,736.71 498.10,733.61 493.41,736.71 494.91,731.29 490.51,727.79 496.13,727.55" fill="#F0E868" fill-opacity="1"/>
<polygon points="578.80,702.56 580.77,707.83 586.39,708.08 581.99,711.58 583.49,717.00 578.80,713.89 574.11,717.00 575.61,711.58 571.21,708.08 576.83,707.83" fill="#F0E868" fill-opacity="1"/>
<polygon points="659.50,648.25 661.47,653.52 667.09,653.76 662.69,657.27 664.19,662.69 659.50,659.58 654.81,662.69 656.31,657.27 651.91,653.76 657.53,653.52" fill="#F0E868" fill-opacity="1"/>
<polygon points="740.20,630.95 742.17,636.22 747.79,636.47 743.39,639.97 744.89,645.39 740.20,642.28 735.51,645.39 737.01,639.97 732.61,636.47 738.23,636.22" fill="#F0E868" fill-opacity="1"/>
<polygon points="820.90,617.75 822.87,623.01 828.49,623.26 824.09,626.76 825.59,632.18 820.90,629.08 816.21,632.18 817.71,626.76 813.31,623.26 818.93,623.01" fill="#F0E868" fill-opacity="1"/>
<polygon points="901.60,633.18 903.57,638.45 909.19,638.70 904.79,642.20 906.29,647.62 901.60,644.52 896.91,647.62 898.41,642.20 894.01,638.70 899.63,638.45" fill="#F0E868" fill-opacity="1"/>
<polygon points="982.30,646.02 984.27,651.29 989.89,651.53 985.49,655.03 986.99,660.45 982.30,657.35 977.61,660.45 979.11,655.03 974.71,651.53 980.33,651.29" fill="#F0E868" fill-opacity="1"/>
<polygon points="1063.00,690.47 1064.97,695.74 1070.59,695.99 1066.19,699.49 1067.69,704.91 1063.00,701.80 1058.31,704.91 1059.81,699.49 1055.41,695.99 1061.03,695.74" fill="#F0E868" fill-opacity="1"/>
<polyline points="175.30,676.69 256.00,642.65 336.70,641.54 417.40,642.65 498.10,642.09 578.80,644.33 659.50,663.48 740.20,717.24 820.90,617.91 901.60,419.64 982.30,626.47 1063.00,736.77" fill="none" stroke="#0000FF" stroke-width="2.5" stroke-opacity="1" stroke-linejoin="round"/>
<polygon points="175.30,667.77 183.96,676.69 175.30,685.62 166.64,676.69" fill="#0000FF" fill-opacity="1"/>
<polygon points="256.00,633.73 264.66,642.65 256.00,651.58 247.34,642.65" fill="#0000FF" fill-opacity="1"/>
<polygon points="336.70,632.61 345.36,641.54 336.70,650.46 328.04,641.54" fill="#0000FF" fill-opacity="1"/>
<polygon points="417.40,633.73 426.06,642.65 417.40,651.58 408.74,642.65" fill="#0000FF" fill-opacity="1"/>
<polygon points="498.10,633.17 506.76,642.09 498.10,651.02 489.44,642.09" fill="#0000FF" fill-opacity="1"/>
<polygon points="578.80,635.40 587.46,644.33 578.80,653.25 570.14,644.33" fill="#0000FF" fill-opacity="1"/>
<polygon points="659.50,654.56 668.16,663.48 659.50,672.41 650.84,663.48" fill="#0000FF" fill-opacity="1"/>
<polygon points="740.20,708.31 748.86,717.24 740.20,726.16 731.54,717.24" fill="#0000FF" fill-opacity="1"/>
<polygon points="820.90,608.99 829.56,617.91 820.90,626.84 812.24,617.91" fill="#0000FF" fill-opacity="1"/>
<polygon points="901.60,410.71 910.26,419.64 901.60,428.56 892.94,419.64" fill="#0000FF" fill-opacity="1"/>
<polygon points="982.30,617.55 990.96,626.47 982.30,635.39 973.64,626.47" fill="#0000FF" fill-opacity="1"/>
<polygon points="1063.00,727.84 1071.66,736.77 1063.00,745.69 1054.34,736.77" fill="#0000FF" fill-opacity="1"/>
<path d="M95.0 402.90 V747.5 H1144.2 V403.20" fill="none" stroke="#000" stroke-width="2.2"/>
<line x1="95.0" x2="106.5" y1="747.10" y2="747.10" stroke="#000" stroke-width="2.2"/>
<line x1="95.0" x2="101" y1="725.65" y2="725.65" stroke="#000" stroke-width="2.2"/>
<g font-family="Liberation Serif, serif" font-size="24.6" text-anchor="middle" fill="#242424">
<text transform="translate(50.75,755.70) scale(1.000,1)">0</text>
<text transform="translate(61.45,755.70) scale(1.000,1)">.</text>
<text transform="translate(75.35,755.70) scale(1.000,1)">0</text>
</g>
<line x1="95.0" x2="106.5" y1="704.20" y2="704.20" stroke="#000" stroke-width="2.2"/>
<line x1="95.0" x2="101" y1="682.75" y2="682.75" stroke="#000" stroke-width="2.2"/>
<g font-family="Liberation Serif, serif" font-size="24.6" text-anchor="middle" fill="#242424">
<text transform="translate(50.75,712.80) scale(1.000,1)">0</text>
<text transform="translate(61.45,712.80) scale(1.000,1)">.</text>
<text transform="translate(75.35,712.80) scale(1.000,1)">2</text>
</g>
<line x1="95.0" x2="106.5" y1="661.30" y2="661.30" stroke="#000" stroke-width="2.2"/>
<line x1="95.0" x2="101" y1="639.85" y2="639.85" stroke="#000" stroke-width="2.2"/>
<g font-family="Liberation Serif, serif" font-size="24.6" text-anchor="middle" fill="#242424">
<text transform="translate(50.75,669.90) scale(1.000,1)">0</text>
<text transform="translate(61.45,669.90) scale(1.000,1)">.</text>
<text transform="translate(75.35,669.90) scale(1.000,1)">4</text>
</g>
<line x1="95.0" x2="106.5" y1="618.40" y2="618.40" stroke="#000" stroke-width="2.2"/>
<line x1="95.0" x2="101" y1="596.95" y2="596.95" stroke="#000" stroke-width="2.2"/>
<g font-family="Liberation Serif, serif" font-size="24.6" text-anchor="middle" fill="#242424">
<text transform="translate(50.75,627.00) scale(1.000,1)">0</text>
<text transform="translate(61.45,627.00) scale(1.000,1)">.</text>
<text transform="translate(75.35,627.00) scale(1.000,1)">6</text>
</g>
<line x1="95.0" x2="106.5" y1="575.50" y2="575.50" stroke="#000" stroke-width="2.2"/>
<line x1="95.0" x2="101" y1="554.05" y2="554.05" stroke="#000" stroke-width="2.2"/>
<g font-family="Liberation Serif, serif" font-size="24.6" text-anchor="middle" fill="#242424">
<text transform="translate(50.75,584.10) scale(1.000,1)">0</text>
<text transform="translate(61.45,584.10) scale(1.000,1)">.</text>
<text transform="translate(75.35,584.10) scale(1.000,1)">8</text>
</g>
<line x1="95.0" x2="106.5" y1="532.60" y2="532.60" stroke="#000" stroke-width="2.2"/>
<line x1="95.0" x2="101" y1="511.15" y2="511.15" stroke="#000" stroke-width="2.2"/>
<g font-family="Liberation Serif, serif" font-size="24.6" text-anchor="middle" fill="#242424">
<text transform="translate(50.75,541.20) scale(1.000,1)">1</text>
<text transform="translate(61.45,541.20) scale(1.000,1)">.</text>
<text transform="translate(75.35,541.20) scale(1.000,1)">0</text>
</g>
<line x1="95.0" x2="106.5" y1="489.70" y2="489.70" stroke="#000" stroke-width="2.2"/>
<line x1="95.0" x2="101" y1="468.25" y2="468.25" stroke="#000" stroke-width="2.2"/>
<g font-family="Liberation Serif, serif" font-size="24.6" text-anchor="middle" fill="#242424">
<text transform="translate(50.75,498.30) scale(1.000,1)">1</text>
<text transform="translate(61.45,498.30) scale(1.000,1)">.</text>
<text transform="translate(75.35,498.30) scale(1.000,1)">2</text>
</g>
<line x1="95.0" x2="106.5" y1="446.80" y2="446.80" stroke="#000" stroke-width="2.2"/>
<line x1="95.0" x2="101" y1="425.35" y2="425.35" stroke="#000" stroke-width="2.2"/>
<g font-family="Liberation Serif, serif" font-size="24.6" text-anchor="middle" fill="#242424">
<text transform="translate(50.75,455.40) scale(1.000,1)">1</text>
<text transform="translate(61.45,455.40) scale(1.000,1)">.</text>
<text transform="translate(75.35,455.40) scale(1.000,1)">4</text>
</g>
<line x1="95.0" x2="106.5" y1="403.90" y2="403.90" stroke="#000" stroke-width="2.2"/>
<g font-family="Liberation Serif, serif" font-size="24.6" text-anchor="middle" fill="#242424">
<text transform="translate(50.75,412.50) scale(1.000,1)">1</text>
<text transform="translate(61.45,412.50) scale(1.000,1)">.</text>
<text transform="translate(75.35,412.50) scale(1.000,1)">6</text>
</g>
<line x1="1132" x2="1144.2" y1="739.00" y2="739.00" stroke="#000" stroke-width="2.2"/>
<line x1="1138" x2="1144.2" y1="720.40" y2="720.40" stroke="#000" stroke-width="2.2"/>
<g font-family="Liberation Serif, serif" font-size="24.8" text-anchor="middle" fill="#242424">
<text transform="translate(1163.90,748.40) scale(1.000,1)">0</text>
</g>
<line x1="1132" x2="1144.2" y1="701.80" y2="701.80" stroke="#000" stroke-width="2.2"/>
<line x1="1138" x2="1144.2" y1="683.20" y2="683.20" stroke="#000" stroke-width="2.2"/>
<g font-family="Liberation Serif, serif" font-size="24.8" text-anchor="middle" fill="#242424">
<text transform="translate(1163.90,711.20) scale(1.000,1)">2</text>
<text transform="translate(1176.50,711.20) scale(1.000,1)">0</text>
</g>
<line x1="1132" x2="1144.2" y1="664.60" y2="664.60" stroke="#000" stroke-width="2.2"/>
<line x1="1138" x2="1144.2" y1="646.00" y2="646.00" stroke="#000" stroke-width="2.2"/>
<g font-family="Liberation Serif, serif" font-size="24.8" text-anchor="middle" fill="#242424">
<text transform="translate(1163.90,674.00) scale(1.000,1)">4</text>
<text transform="translate(1176.50,674.00) scale(1.000,1)">0</text>
</g>
<line x1="1132" x2="1144.2" y1="627.40" y2="627.40" stroke="#000" stroke-width="2.2"/>
<line x1="1138" x2="1144.2" y1="608.80" y2="608.80" stroke="#000" stroke-width="2.2"/>
<g font-family="Liberation Serif, serif" font-size="24.8" text-anchor="middle" fill="#242424">
<text transform="translate(1163.90,636.80) scale(1.000,1)">6</text>
<text transform="translate(1176.50,636.80) scale(1.000,1)">0</text>
</g>
<line x1="1132" x2="1144.2" y1="590.20" y2="590.20" stroke="#000" stroke-width="2.2"/>
<line x1="1138" x2="1144.2" y1="571.60" y2="571.60" stroke="#000" stroke-width="2.2"/>
<g font-family="Liberation Serif, serif" font-size="24.8" text-anchor="middle" fill="#242424">
<text transform="translate(1163.90,599.60) scale(1.000,1)">8</text>
<text transform="translate(1176.50,599.60) scale(1.000,1)">0</text>
</g>
<line x1="1132" x2="1144.2" y1="553.00" y2="553.00" stroke="#000" stroke-width="2.2"/>
<line x1="1138" x2="1144.2" y1="534.40" y2="534.40" stroke="#000" stroke-width="2.2"/>
<g font-family="Liberation Serif, serif" font-size="24.8" text-anchor="middle" fill="#242424">
<text transform="translate(1163.90,562.40) scale(1.000,1)">1</text>
<text transform="translate(1176.50,562.40) scale(1.000,1)">0</text>
<text transform="translate(1189.10,562.40) scale(1.000,1)">0</text>
</g>
<line x1="1132" x2="1144.2" y1="515.80" y2="515.80" stroke="#000" stroke-width="2.2"/>
<line x1="1138" x2="1144.2" y1="497.20" y2="497.20" stroke="#000" stroke-width="2.2"/>
<g font-family="Liberation Serif, serif" font-size="24.8" text-anchor="middle" fill="#242424">
<text transform="translate(1163.90,525.20) scale(1.000,1)">1</text>
<text transform="translate(1176.50,525.20) scale(1.000,1)">2</text>
<text transform="translate(1189.10,525.20) scale(1.000,1)">0</text>
</g>
<line x1="1132" x2="1144.2" y1="478.60" y2="478.60" stroke="#000" stroke-width="2.2"/>
<line x1="1138" x2="1144.2" y1="460.00" y2="460.00" stroke="#000" stroke-width="2.2"/>
<g font-family="Liberation Serif, serif" font-size="24.8" text-anchor="middle" fill="#242424">
<text transform="translate(1163.90,488.00) scale(1.000,1)">1</text>
<text transform="translate(1176.50,488.00) scale(1.000,1)">4</text>
<text transform="translate(1189.10,488.00) scale(1.000,1)">0</text>
</g>
<line x1="1132" x2="1144.2" y1="441.40" y2="441.40" stroke="#000" stroke-width="2.2"/>
<line x1="1138" x2="1144.2" y1="422.80" y2="422.80" stroke="#000" stroke-width="2.2"/>
<g font-family="Liberation Serif, serif" font-size="24.8" text-anchor="middle" fill="#242424">
<text transform="translate(1163.90,450.80) scale(1.000,1)">1</text>
<text transform="translate(1176.50,450.80) scale(1.000,1)">6</text>
<text transform="translate(1189.10,450.80) scale(1.000,1)">0</text>
</g>
<line x1="1132" x2="1144.2" y1="404.20" y2="404.20" stroke="#000" stroke-width="2.2"/>
<g font-family="Liberation Serif, serif" font-size="24.8" text-anchor="middle" fill="#242424">
<text transform="translate(1163.90,413.60) scale(1.000,1)">1</text>
<text transform="translate(1176.50,413.60) scale(1.000,1)">8</text>
<text transform="translate(1189.10,413.60) scale(1.000,1)">0</text>
</g>
<line x1="175.30" x2="175.30" y1="734.5" y2="747.1" stroke="#000" stroke-width="2.2"/>
<g font-family="Liberation Serif, serif" font-size="25" text-anchor="middle" fill="#242424">
<text transform="translate(162.80,782.20) scale(1.120,1)">J</text>
<text transform="translate(175.30,782.20) scale(0.679,1)">A</text>
<text transform="translate(187.80,782.20) scale(0.679,1)">N</text>
</g>
<line x1="256.00" x2="256.00" y1="734.5" y2="747.1" stroke="#000" stroke-width="2.2"/>
<g font-family="Liberation Serif, serif" font-size="25" text-anchor="middle" fill="#242424">
<text transform="translate(243.50,782.20) scale(0.881,1)">F</text>
<text transform="translate(256.00,782.20) scale(0.802,1)">E</text>
<text transform="translate(268.50,782.20) scale(0.735,1)">B</text>
</g>
<line x1="336.70" x2="336.70" y1="734.5" y2="747.1" stroke="#000" stroke-width="2.2"/>
<g font-family="Liberation Serif, serif" font-size="25" text-anchor="middle" fill="#242424">
<text transform="translate(324.20,782.20) scale(0.551,1)">M</text>
<text transform="translate(336.70,782.20) scale(1.104,1)">a</text>
<text transform="translate(349.20,782.20) scale(1.120,1)">r</text>
</g>
<line x1="417.40" x2="417.40" y1="734.5" y2="747.1" stroke="#000" stroke-width="2.2"/>
<g font-family="Liberation Serif, serif" font-size="25" text-anchor="middle" fill="#242424">
<text transform="translate(404.90,782.20) scale(0.679,1)">A</text>
<text transform="translate(417.40,782.20) scale(0.980,1)">p</text>
<text transform="translate(429.90,782.20) scale(1.120,1)">r</text>
</g>
<line x1="498.10" x2="498.10" y1="734.5" y2="747.1" stroke="#000" stroke-width="2.2"/>
<g font-family="Liberation Serif, serif" font-size="25" text-anchor="middle" fill="#242424">
<text transform="translate(485.60,782.20) scale(0.551,1)">M</text>
<text transform="translate(498.10,782.20) scale(1.104,1)">a</text>
<text transform="translate(510.60,782.20) scale(0.980,1)">y</text>
</g>
<line x1="578.80" x2="578.80" y1="734.5" y2="747.1" stroke="#000" stroke-width="2.2"/>
<g font-family="Liberation Serif, serif" font-size="25" text-anchor="middle" fill="#242424">
<text transform="translate(566.30,782.20) scale(1.120,1)">J</text>
<text transform="translate(578.80,782.20) scale(0.980,1)">u</text>
<text transform="translate(591.30,782.20) scale(0.980,1)">n</text>
</g>
<line x1="659.50" x2="659.50" y1="734.5" y2="747.1" stroke="#000" stroke-width="2.2"/>
<g font-family="Liberation Serif, serif" font-size="25" text-anchor="middle" fill="#242424">
<text transform="translate(647.00,782.20) scale(1.120,1)">J</text>
<text transform="translate(659.50,782.20) scale(0.980,1)">u</text>
<text transform="translate(672.00,782.20) scale(1.120,1)">l</text>
</g>
<line x1="740.20" x2="740.20" y1="734.5" y2="747.1" stroke="#000" stroke-width="2.2"/>
<g font-family="Liberation Serif, serif" font-size="25" text-anchor="middle" fill="#242424">
<text transform="translate(727.70,782.20) scale(0.679,1)">A</text>
<text transform="translate(740.20,782.20) scale(0.980,1)">u</text>
<text transform="translate(752.70,782.20) scale(0.980,1)">g</text>
</g>
<line x1="820.90" x2="820.90" y1="734.5" y2="747.1" stroke="#000" stroke-width="2.2"/>
<g font-family="Liberation Serif, serif" font-size="25" text-anchor="middle" fill="#242424">
<text transform="translate(808.40,782.20) scale(0.881,1)">S</text>
<text transform="translate(820.90,782.20) scale(1.104,1)">e</text>
<text transform="translate(833.40,782.20) scale(0.980,1)">p</text>
</g>
<line x1="901.60" x2="901.60" y1="734.5" y2="747.1" stroke="#000" stroke-width="2.2"/>
<g font-family="Liberation Serif, serif" font-size="25" text-anchor="middle" fill="#242424">
<text transform="translate(889.10,782.20) scale(0.679,1)">O</text>
<text transform="translate(901.60,782.20) scale(1.104,1)">c</text>
<text transform="translate(914.10,782.20) scale(1.120,1)">t</text>
</g>
<line x1="982.30" x2="982.30" y1="734.5" y2="747.1" stroke="#000" stroke-width="2.2"/>
<g font-family="Liberation Serif, serif" font-size="25" text-anchor="middle" fill="#242424">
<text transform="translate(969.80,782.20) scale(0.679,1)">N</text>
<text transform="translate(982.30,782.20) scale(0.980,1)">o</text>
<text transform="translate(994.80,782.20) scale(0.980,1)">v</text>
</g>
<line x1="1063.00" x2="1063.00" y1="734.5" y2="747.1" stroke="#000" stroke-width="2.2"/>
<g font-family="Liberation Serif, serif" font-size="25" text-anchor="middle" fill="#242424">
<text transform="translate(1050.50,782.20) scale(0.679,1)">D</text>
<text transform="translate(1063.00,782.20) scale(1.104,1)">e</text>
<text transform="translate(1075.50,782.20) scale(1.104,1)">c</text>
</g>
<line x1="134.95" x2="134.95" y1="741.3" y2="747.1" stroke="#000" stroke-width="2.2"/>
<line x1="215.65" x2="215.65" y1="741.3" y2="747.1" stroke="#000" stroke-width="2.2"/>
<line x1="296.35" x2="296.35" y1="741.3" y2="747.1" stroke="#000" stroke-width="2.2"/>
<line x1="377.05" x2="377.05" y1="741.3" y2="747.1" stroke="#000" stroke-width="2.2"/>
<line x1="457.75" x2="457.75" y1="741.3" y2="747.1" stroke="#000" stroke-width="2.2"/>
<line x1="538.45" x2="538.45" y1="741.3" y2="747.1" stroke="#000" stroke-width="2.2"/>
<line x1="619.15" x2="619.15" y1="741.3" y2="747.1" stroke="#000" stroke-width="2.2"/>
<line x1="699.85" x2="699.85" y1="741.3" y2="747.1" stroke="#000" stroke-width="2.2"/>
<line x1="780.55" x2="780.55" y1="741.3" y2="747.1" stroke="#000" stroke-width="2.2"/>
<line x1="861.25" x2="861.25" y1="741.3" y2="747.1" stroke="#000" stroke-width="2.2"/>
<line x1="941.95" x2="941.95" y1="741.3" y2="747.1" stroke="#000" stroke-width="2.2"/>
<line x1="1022.65" x2="1022.65" y1="741.3" y2="747.1" stroke="#000" stroke-width="2.2"/>
<line x1="1103.35" x2="1103.35" y1="741.3" y2="747.1" stroke="#000" stroke-width="2.2"/>
<text font-family="Liberation Sans, sans-serif" font-weight="bold" font-size="27" x="115.5" y="416">B</text>
<rect x="628.3" y="407.4" width="127" height="209.8" fill="#fff" stroke="#555" stroke-width="1"/>
<rect x="631.8" y="410.80" width="37" height="17.4" fill="#FDCB94" stroke="#000" stroke-width="1.3"/>
<g font-family="Liberation Serif, serif" font-size="19" text-anchor="middle" fill="#242424">
<text transform="translate(682.02,426.10) scale(0.940,1)">0</text>
<text transform="translate(691.47,424.49) scale(1.500,1)">-</text>
<text transform="translate(700.92,426.10) scale(0.940,1)">0</text>
<text transform="translate(709.15,426.10) scale(1.000,1)">.</text>
<text transform="translate(719.82,426.10) scale(0.940,1)">6</text>
<text transform="translate(729.27,426.10) scale(0.630,1)">m</text>
</g>
<rect x="631.8" y="431.60" width="37" height="17.4" fill="#9FD89F" stroke="#000" stroke-width="1.3"/>
<g font-family="Liberation Serif, serif" font-size="19" text-anchor="middle" fill="#242424">
<text transform="translate(682.02,446.90) scale(0.940,1)">0</text>
<text transform="translate(690.25,446.90) scale(1.000,1)">.</text>
<text transform="translate(700.92,446.90) scale(0.940,1)">6</text>
<text transform="translate(710.38,445.29) scale(1.500,1)">-</text>
<text transform="translate(719.82,446.90) scale(0.940,1)">1</text>
<text transform="translate(728.05,446.90) scale(1.000,1)">.</text>
<text transform="translate(738.72,446.90) scale(0.940,1)">4</text>
<text transform="translate(748.17,446.90) scale(0.630,1)">m</text>
</g>
<rect x="631.8" y="452.40" width="37" height="17.4" fill="#C6B3D9" stroke="#000" stroke-width="1.3"/>
<g font-family="Liberation Serif, serif" font-size="19" text-anchor="middle" fill="#242424">
<text transform="translate(682.02,467.70) scale(0.940,1)">1</text>
<text transform="translate(690.25,467.70) scale(1.000,1)">.</text>
<text transform="translate(700.92,467.70) scale(0.940,1)">4</text>
<text transform="translate(710.38,466.09) scale(1.500,1)">-</text>
<text transform="translate(719.82,467.70) scale(0.940,1)">2</text>
<text transform="translate(728.05,467.70) scale(1.000,1)">.</text>
<text transform="translate(738.72,467.70) scale(0.940,1)">4</text>
<text transform="translate(748.17,467.70) scale(0.630,1)">m</text>
</g>
<rect x="631.8" y="473.20" width="37" height="17.4" fill="#F0E868" stroke="#000" stroke-width="1.3"/>
<g font-family="Liberation Serif, serif" font-size="19" text-anchor="middle" fill="#242424">
<text transform="translate(682.02,488.50) scale(0.940,1)">2</text>
<text transform="translate(690.25,488.50) scale(1.000,1)">.</text>
<text transform="translate(700.92,488.50) scale(0.940,1)">4</text>
<text transform="translate(710.38,486.88) scale(1.500,1)">-</text>
<text transform="translate(719.82,488.50) scale(0.940,1)">3</text>
<text transform="translate(728.05,488.50) scale(1.000,1)">.</text>
<text transform="translate(738.72,488.50) scale(0.940,1)">6</text>
<text transform="translate(748.17,488.50) scale(0.630,1)">m</text>
</g>
<rect x="631.8" y="494.00" width="37" height="17.4" fill="#9DBFF5" stroke="#000" stroke-width="1.3"/>
<g font-family="Liberation Serif, serif" font-size="19" text-anchor="middle" fill="#242424">
<text transform="translate(682.02,510.44) scale(0.869,1.2)">&gt;</text>
<text transform="translate(691.47,509.30) scale(0.940,1)">3</text>
<text transform="translate(699.70,509.30) scale(1.000,1)">.</text>
<text transform="translate(710.38,509.30) scale(0.940,1)">6</text>
<text transform="translate(729.27,509.30) scale(0.630,1)">m</text>
</g>
<line x1="630.3" x2="669.6" y1="522.90" y2="522.90" stroke="#F5A35C" stroke-width="2.5"/>
<rect x="643.50" y="516.60" width="12.600000000000001" height="12.600000000000001" fill="#F5A35C" fill-opacity="1"/>
<g font-family="Liberation Serif, serif" font-size="19" text-anchor="middle" fill="#242424">
<text transform="translate(682.02,529.50) scale(0.940,1)">0</text>
<text transform="translate(691.47,527.88) scale(1.500,1)">-</text>
<text transform="translate(700.92,529.50) scale(0.940,1)">0</text>
<text transform="translate(709.15,529.50) scale(1.000,1)">.</text>
<text transform="translate(719.82,529.50) scale(0.940,1)">6</text>
<text transform="translate(729.27,529.50) scale(0.630,1)">m</text>
</g>
<line x1="630.3" x2="669.6" y1="543.65" y2="543.65" stroke="#079307" stroke-width="2.5"/>
<circle cx="649.80" cy="543.65" r="6.93" fill="#079307" fill-opacity="1"/>
<g font-family="Liberation Serif, serif" font-size="19" text-anchor="middle" fill="#242424">
<text transform="translate(682.02,550.25) scale(0.940,1)">0</text>
<text transform="translate(690.25,550.25) scale(1.000,1)">.</text>
<text transform="translate(700.92,550.25) scale(0.940,1)">6</text>
<text transform="translate(710.38,548.63) scale(1.500,1)">-</text>
<text transform="translate(719.82,550.25) scale(0.940,1)">1</text>
<text transform="translate(728.05,550.25) scale(1.000,1)">.</text>
<text transform="translate(738.72,550.25) scale(0.940,1)">4</text>
<text transform="translate(748.17,550.25) scale(0.630,1)">m</text>
</g>
<line x1="630.3" x2="669.6" y1="564.40" y2="564.40" stroke="#A040FF" stroke-width="2.5"/>
<polygon points="649.80,555.44 657.94,568.88 641.66,568.88" fill="#A040FF" fill-opacity="1"/>
<g font-family="Liberation Serif, serif" font-size="19" text-anchor="middle" fill="#242424">
<text transform="translate(682.02,571.00) scale(0.940,1)">1</text>
<text transform="translate(690.25,571.00) scale(1.000,1)">.</text>
<text transform="translate(700.92,571.00) scale(0.940,1)">4</text>
<text transform="translate(710.38,569.38) scale(1.500,1)">-</text>
<text transform="translate(719.82,571.00) scale(0.940,1)">2</text>
<text transform="translate(728.05,571.00) scale(1.000,1)">.</text>
<text transform="translate(738.72,571.00) scale(0.940,1)">4</text>
<text transform="translate(748.17,571.00) scale(0.630,1)">m</text>
</g>
<line x1="630.3" x2="669.6" y1="585.15" y2="585.15" stroke="#F0E868" stroke-width="2.5"/>
<polygon points="649.80,577.17 651.77,582.44 657.39,582.68 652.99,586.19 654.49,591.61 649.80,588.50 645.11,591.61 646.61,586.19 642.21,582.68 647.83,582.44" fill="#F0E868" fill-opacity="1"/>
<g font-family="Liberation Serif, serif" font-size="19" text-anchor="middle" fill="#242424">
<text transform="translate(682.02,591.75) scale(0.940,1)">2</text>
<text transform="translate(690.25,591.75) scale(1.000,1)">.</text>
<text transform="translate(700.92,591.75) scale(0.940,1)">4</text>
<text transform="translate(710.38,590.13) scale(1.500,1)">-</text>
<text transform="translate(719.82,591.75) scale(0.940,1)">3</text>
<text transform="translate(728.05,591.75) scale(1.000,1)">.</text>
<text transform="translate(738.72,591.75) scale(0.940,1)">6</text>
<text transform="translate(748.17,591.75) scale(0.630,1)">m</text>
</g>
<line x1="630.3" x2="669.6" y1="605.90" y2="605.90" stroke="#0000FF" stroke-width="2.5"/>
<polygon points="649.80,596.98 658.46,605.90 649.80,614.82 641.14,605.90" fill="#0000FF" fill-opacity="1"/>
<g font-family="Liberation Serif, serif" font-size="19" text-anchor="middle" fill="#242424">
<text transform="translate(682.02,613.64) scale(0.869,1.2)">&gt;</text>
<text transform="translate(691.47,612.50) scale(0.940,1)">3</text>
<text transform="translate(699.70,612.50) scale(1.000,1)">.</text>
<text transform="translate(710.38,612.50) scale(0.940,1)">6</text>
<text transform="translate(729.27,612.50) scale(0.630,1)">m</text>
</g>
<text font-family="Liberation Serif, serif" font-size="31.5" fill="#242424" text-anchor="middle" transform="translate(31.30,744.80) rotate(-90) translate(0,0.00) scale(0.679,1)">A</text>
<text font-family="Liberation Serif, serif" font-size="31.5" fill="#242424" text-anchor="middle" transform="translate(31.30,727.10) rotate(-90) translate(0,0.00) scale(0.980,1)">b</text>
<text font-family="Liberation Serif, serif" font-size="31.5" fill="#242424" text-anchor="middle" transform="translate(31.30,712.10) rotate(-90) translate(0,0.00) scale(1.120,1)">s</text>
<text font-family="Liberation Serif, serif" font-size="31.5" fill="#242424" text-anchor="middle" transform="translate(31.30,696.60) rotate(-90) translate(0,0.00) scale(0.980,1)">o</text>
<text font-family="Liberation Serif, serif" font-size="31.5" fill="#242424" text-anchor="middle" transform="translate(31.30,684.30) rotate(-90) translate(0,0.00) scale(1.120,1)">l</text>
<text font-family="Liberation Serif, serif" font-size="31.5" fill="#242424" text-anchor="middle" transform="translate(31.30,670.40) rotate(-90) translate(0,0.00) scale(0.980,1)">u</text>
<text font-family="Liberation Serif, serif" font-size="31.5" fill="#242424" text-anchor="middle" transform="translate(31.30,657.00) rotate(-90) translate(0,0.00) scale(1.120,1)">t</text>
<text font-family="Liberation Serif, serif" font-size="31.5" fill="#242424" text-anchor="middle" transform="translate(31.30,642.00) rotate(-90) translate(0,0.00) scale(1.104,1)">e</text>
<text font-family="Liberation Serif, serif" font-size="31.5" fill="#242424" text-anchor="middle" transform="translate(31.30,602.20) rotate(-90) translate(0,0.00) scale(0.980,1)">v</text>
<text font-family="Liberation Serif, serif" font-size="31.5" fill="#242424" text-anchor="middle" transform="translate(31.30,583.50) rotate(-90) translate(0,0.00) scale(1.104,1)">a</text>
<text font-family="Liberation Serif, serif" font-size="31.5" fill="#242424" text-anchor="middle" transform="translate(31.30,570.40) rotate(-90) translate(0,0.00) scale(1.120,1)">l</text>
<text font-family="Liberation Serif, serif" font-size="31.5" fill="#242424" text-anchor="middle" transform="translate(31.30,554.10) rotate(-90) translate(0,0.00) scale(0.980,1)">u</text>
<text font-family="Liberation Serif, serif" font-size="31.5" fill="#242424" text-anchor="middle" transform="translate(31.30,535.40) rotate(-90) translate(0,0.00) scale(1.104,1)">e</text>
<text font-family="Liberation Serif, serif" font-size="31.5" fill="#242424" text-anchor="middle" transform="translate(31.30,517.60) rotate(-90) translate(0,0.00) scale(1.120,1)">s</text>
<text font-family="Liberation Serif, serif" font-size="31.5" fill="#242424" text-anchor="middle" transform="translate(31.30,501.10) rotate(-90) translate(0,-3.15) scale(0.900,1)">(</text>
<text font-family="Liberation Serif, serif" font-size="31.5" fill="#242424" text-anchor="middle" transform="translate(31.30,489.70) rotate(-90) translate(0,0.00) scale(1.000,1)">1</text>
<text font-family="Liberation Serif, serif" font-size="31.5" fill="#242424" text-anchor="middle" transform="translate(31.30,475.70) rotate(-90) translate(0,0.00) scale(1.000,1)">0</text>
<text font-family="Liberation Serif, serif" font-size="19.5" fill="#242424" text-anchor="middle" transform="translate(18.10,460.50) rotate(-90) translate(0,0.00) scale(1.000,1)">6</text>
<text font-family="Liberation Serif, serif" font-size="31.5" fill="#242424" text-anchor="middle" transform="translate(31.30,447.80) rotate(-90) translate(0,0.00) scale(0.980,1)">k</text>
<text font-family="Liberation Serif, serif" font-size="31.5" fill="#242424" text-anchor="middle" transform="translate(31.30,431.30) rotate(-90) translate(0,0.00) scale(0.630,1)">m</text>
<text font-family="Liberation Serif, serif" font-size="19.5" fill="#242424" text-anchor="middle" transform="translate(18.10,418.00) rotate(-90) translate(0,0.00) scale(1.000,1)">2</text>
<text font-family="Liberation Serif, serif" font-size="31.5" fill="#242424" text-anchor="middle" transform="translate(31.30,407.10) rotate(-90) translate(0,-3.15) scale(0.900,1)">)</text>
<text font-family="Liberation Serif, serif" font-size="31.5" fill="#242424" text-anchor="middle" transform="translate(1228.60,679.30) rotate(-90) translate(0,0.00) scale(0.881,1)">P</text>
<text font-family="Liberation Serif, serif" font-size="31.5" fill="#242424" text-anchor="middle" transform="translate(1228.60,660.30) rotate(-90) translate(0,0.00) scale(1.104,1)">e</text>
<text font-family="Liberation Serif, serif" font-size="31.5" fill="#242424" text-anchor="middle" transform="translate(1228.60,643.00) rotate(-90) translate(0,0.00) scale(1.120,1)">r</text>
<text font-family="Liberation Serif, serif" font-size="31.5" fill="#242424" text-anchor="middle" transform="translate(1228.60,628.20) rotate(-90) translate(0,0.00) scale(1.104,1)">c</text>
<text font-family="Liberation Serif, serif" font-size="31.5" fill="#242424" text-anchor="middle" transform="translate(1228.60,611.50) rotate(-90) translate(0,0.00) scale(1.104,1)">e</text>
<text font-family="Liberation Serif, serif" font-size="31.5" fill="#242424" text-anchor="middle" transform="translate(1228.60,594.20) rotate(-90) translate(0,0.00) scale(0.980,1)">n</text>
<text font-family="Liberation Serif, serif" font-size="31.5" fill="#242424" text-anchor="middle" transform="translate(1228.60,578.30) rotate(-90) translate(0,0.00) scale(1.120,1)">t</text>
<text font-family="Liberation Serif, serif" font-size="31.5" fill="#242424" text-anchor="middle" transform="translate(1228.60,562.70) rotate(-90) translate(0,0.00) scale(1.104,1)">a</text>
<text font-family="Liberation Serif, serif" font-size="31.5" fill="#242424" text-anchor="middle" transform="translate(1228.60,545.40) rotate(-90) translate(0,0.00) scale(0.980,1)">g</text>
<text font-family="Liberation Serif, serif" font-size="31.5" fill="#242424" text-anchor="middle" transform="translate(1228.60,527.80) rotate(-90) translate(0,0.00) scale(1.104,1)">e</text>
<text font-family="Liberation Serif, serif" font-size="31.5" fill="#242424" text-anchor="middle" transform="translate(1228.60,511.90) rotate(-90) translate(0,-3.15) scale(0.900,1)">(</text>
<text font-family="Liberation Serif, serif" font-size="31.5" fill="#242424" text-anchor="middle" transform="translate(1228.60,495.70) rotate(-90) translate(0,0.00) scale(0.740,1)">%</text>
<text font-family="Liberation Serif, serif" font-size="31.5" fill="#242424" text-anchor="middle" transform="translate(1228.60,479.80) rotate(-90) translate(0,-3.15) scale(0.900,1)">)</text>
</svg>
</body></html>
